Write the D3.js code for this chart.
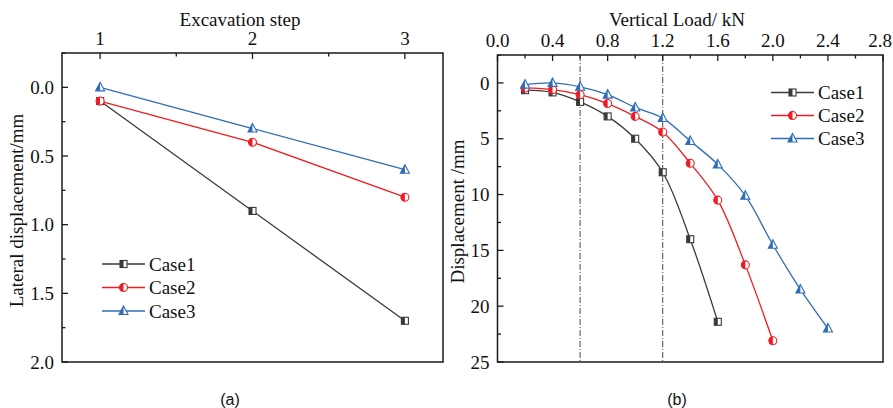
<!DOCTYPE html>
<html>
<head>
<meta charset="utf-8">
<script src="https://cdn.jsdelivr.net/npm/d3@7"></script>
<style>
  html, body { margin: 0; padding: 0; background: #fff; }
  svg { display: block; }
  text { font-family: "Liberation Serif", "Times New Roman", serif; fill: #111; }
  .sub { font-family: "Liberation Sans", Arial, sans-serif; }
</style>
</head>
<body>
<svg id="chart" width="893" height="408"></svg>
<script>
// ---- Panel (a): lateral displacement vs excavation step ----
const steps = [1, 2, 3];
const lateralCase1 = [0.1, 0.9, 1.7];
const lateralCase2 = [0.1, 0.4, 0.8];
const lateralCase3 = [0.0, 0.3, 0.6];
const stepTicks = [1, 2, 3];
const lateralTicks = [0.0, 0.5, 1.0, 1.5, 2.0];

// ---- Panel (b): displacement vs vertical load ----
const loadCase1 = [0.2, 0.4, 0.6, 0.8, 1.0, 1.2, 1.4, 1.6];
const dispCase1 = [0.65, 0.85, 1.7, 3.0, 5.0, 8.0, 14.0, 21.4];
const loadCase2 = [0.2, 0.4, 0.6, 0.8, 1.0, 1.2, 1.4, 1.6, 1.8, 2.0];
const dispCase2 = [0.45, 0.6, 1.05, 1.85, 3.0, 4.4, 7.2, 10.5, 16.3, 23.1];
const loadCase3 = [0.2, 0.4, 0.6, 0.8, 1.0, 1.2, 1.4, 1.6, 1.8, 2.0, 2.2, 2.4];
const dispCase3 = [0.15, 0.0, 0.35, 1.05, 2.2, 3.15, 5.2, 7.3, 10.1, 14.5, 18.5, 22.0];
const loadTicks = [0.0, 0.4, 0.8, 1.2, 1.6, 2.0, 2.4, 2.8];
const dispTicks = [0, 5, 10, 15, 20, 25];
const guideLoads = [0.6, 1.2];

const caseNames = ["Case1", "Case2", "Case3"];
const caseColors = ["#3a3a3a", "#ee1c25", "#2f6db8"];
const caseShapes = ["square", "circle", "triangle"];

const FS = 19;
const W = 893;
const svg = d3.select("#chart");
const defs = svg.append("defs");

// Marker drawn with its left half filled in the series colour
let clipId = 0;
function marker(g, shape, color, cx, cy) {
  const id = "half" + (clipId++);
  defs.append("clipPath").attr("id", id)
    .append("rect").attr("x", cx - 10).attr("y", cy - 10).attr("width", 10).attr("height", 20);
  const draw = (sel) => {
    if (shape === "square") {
      return sel.append("rect").attr("x", cx - 3.5).attr("y", cy - 3.5).attr("width", 7).attr("height", 7);
    } else if (shape === "circle") {
      return sel.append("circle").attr("cx", cx).attr("cy", cy).attr("r", 4);
    } else {
      return sel.append("path").attr("d", `M${cx},${cy - 5}L${cx + 4.5},${cy + 3.5}L${cx - 4.5},${cy + 3.5}Z`);
    }
  };
  draw(g).attr("fill", "#fff").attr("stroke", "none");
  draw(g).attr("fill", color).attr("stroke", "none").attr("clip-path", `url(#${id})`);
  draw(g).attr("fill", "none").attr("stroke", color).attr("stroke-width", 1.1);
}

function frame(g, x0, y0, x1, y1) {
  g.append("rect").attr("x", x0).attr("y", y0).attr("width", x1 - x0).attr("height", y1 - y0)
    .attr("fill", "none").attr("stroke", "#1a1a1a").attr("stroke-width", 1.5);
}

function topAxis(g, x, ticks, minorStep, fmt, y0) {
  const [d0, d1] = x.domain();
  const minor = d3.range(Math.ceil(d0 / minorStep - 1e-9) * minorStep, d1 + 1e-9, minorStep)
    .filter(v => !ticks.some(t => Math.abs(t - v) < 1e-9));
  g.selectAll(null).data(ticks).join("line")
    .attr("x1", d => x(d)).attr("x2", d => x(d)).attr("y1", y0).attr("y2", y0 + 6)
    .attr("stroke", "#1a1a1a").attr("stroke-width", 1.3);
  g.selectAll(null).data(minor).join("line")
    .attr("x1", d => x(d)).attr("x2", d => x(d)).attr("y1", y0).attr("y2", y0 + 3.5)
    .attr("stroke", "#1a1a1a").attr("stroke-width", 1.3);
  g.selectAll(null).data(ticks).join("text")
    .attr("x", d => x(d)).attr("y", y0 - 8).attr("text-anchor", "middle")
    .attr("font-size", FS).text(fmt)
    .each(function () {
      // keep the last label inside the drawing area
      const bb = this.getBBox();
      if (bb.x + bb.width > W - 1) {
        d3.select(this).attr("x", +d3.select(this).attr("x") - (bb.x + bb.width - (W - 1)));
      }
    });
}

function leftAxis(g, y, ticks, minorStep, fmt, x0) {
  const [d0, d1] = y.domain();
  const lo = Math.min(d0, d1), hi = Math.max(d0, d1);
  const minor = d3.range(Math.ceil(lo / minorStep - 1e-9) * minorStep, hi + 1e-9, minorStep)
    .filter(v => !ticks.some(t => Math.abs(t - v) < 1e-9));
  g.selectAll(null).data(ticks).join("line")
    .attr("x1", x0).attr("x2", x0 + 6).attr("y1", d => y(d)).attr("y2", d => y(d))
    .attr("stroke", "#1a1a1a").attr("stroke-width", 1.3);
  g.selectAll(null).data(minor).join("line")
    .attr("x1", x0).attr("x2", x0 + 3.5).attr("y1", d => y(d)).attr("y2", d => y(d))
    .attr("stroke", "#1a1a1a").attr("stroke-width", 1.3);
  g.selectAll(null).data(ticks).join("text")
    .attr("x", x0 - 8).attr("y", d => y(d)).attr("dy", "0.35em").attr("text-anchor", "end")
    .attr("font-size", FS).text(fmt);
}

function legend(g, x0, y0, dy) {
  caseNames.forEach((name, i) => {
    const y = y0 + i * dy;
    g.append("line").attr("x1", x0).attr("x2", x0 + 43).attr("y1", y).attr("y2", y)
      .attr("stroke", caseColors[i]).attr("stroke-width", 1.3);
    marker(g, caseShapes[i], caseColors[i], x0 + 21.5, y);
    g.append("text").attr("x", x0 + 47).attr("y", y).attr("dy", "0.35em")
      .attr("font-size", FS).text(name);
  });
}

// ===== Panel (a) =====
{
  const L = 62, R = 443, T = 53, B = 362;
  const x = d3.scaleLinear().domain([0.75, 3.25]).range([L, R]);
  const y = d3.scaleLinear().domain([-0.25, 2.0]).range([T, B]);
  const g = svg.append("g");
  const series = [lateralCase1, lateralCase2, lateralCase3];
  const line = d3.line().x(d => x(d[0])).y(d => y(d[1]));
  series.forEach((vals, i) => {
    const pts = steps.map((s, k) => [s, vals[k]]);
    g.append("path").attr("d", line(pts)).attr("fill", "none")
      .attr("stroke", caseColors[i]).attr("stroke-width", 1.3);
  });
  series.forEach((vals, i) => {
    steps.forEach((s, k) => marker(g, caseShapes[i], caseColors[i], x(s), y(vals[k])));
  });
  frame(g, L, T, R, B);
  topAxis(g, x, stepTicks, 0.5, d => d3.format("d")(d), T);
  leftAxis(g, y, lateralTicks, 0.25, d => d3.format(".1f")(d), L);
  g.append("text").attr("x", 240).attr("y", 26).attr("text-anchor", "middle")
    .attr("font-size", FS).text("Excavation step");
  g.append("text").attr("transform", `translate(23,${(T + B) / 2 + 3}) rotate(-90)`)
    .attr("text-anchor", "middle").attr("font-size", FS).text("Lateral displacement/mm");
  legend(g, 102, 264, 23.5);
  g.append("text").attr("class", "sub").attr("x", 230).attr("y", 405)
    .attr("text-anchor", "middle").attr("font-size", 16).text("(a)");
}

// ===== Panel (b) =====
{
  const L = 497.5, R = 883, T = 55, B = 362;
  const x = d3.scaleLinear().domain([0, 2.8]).range([L, R]);
  const y = d3.scaleLinear().domain([-2.5, 25]).range([T, B]);
  const g = svg.append("g");
  // dash-dot guide lines at the two characteristic loads
  guideLoads.forEach(v => {
    g.append("line").attr("x1", x(v)).attr("x2", x(v)).attr("y1", T).attr("y2", B)
      .attr("stroke", "#333").attr("stroke-width", 0.9).attr("stroke-dasharray", "6,2,1,2");
  });
  const loads = [loadCase1, loadCase2, loadCase3];
  const disps = [dispCase1, dispCase2, dispCase3];
  const line = d3.line().x(d => x(d[0])).y(d => y(d[1])).curve(d3.curveCatmullRom.alpha(0.5));
  loads.forEach((ls, i) => {
    const pts = ls.map((l, k) => [l, disps[i][k]]);
    g.append("path").attr("d", line(pts)).attr("fill", "none")
      .attr("stroke", caseColors[i]).attr("stroke-width", 1.3);
  });
  loads.forEach((ls, i) => {
    ls.forEach((l, k) => marker(g, caseShapes[i], caseColors[i], x(l), y(disps[i][k])));
  });
  frame(g, L, T, R, B);
  topAxis(g, x, loadTicks, 0.2, d => d3.format(".1f")(d), T);
  leftAxis(g, y, dispTicks, 2.5, d => d3.format("d")(d), L);
  g.append("text").attr("x", 677).attr("y", 26).attr("text-anchor", "middle")
    .attr("font-size", FS).text("Vertical Load/ kN");
  g.append("text").attr("transform", `translate(464,${(T + B) / 2 + 3}) rotate(-90)`)
    .attr("text-anchor", "middle").attr("font-size", FS).text("Displacement /mm");
  legend(g, 771, 92.5, 23);
  g.append("text").attr("class", "sub").attr("x", 677).attr("y", 405)
    .attr("text-anchor", "middle").attr("font-size", 16).text("(b)");
}
</script>
</body>
</html>
